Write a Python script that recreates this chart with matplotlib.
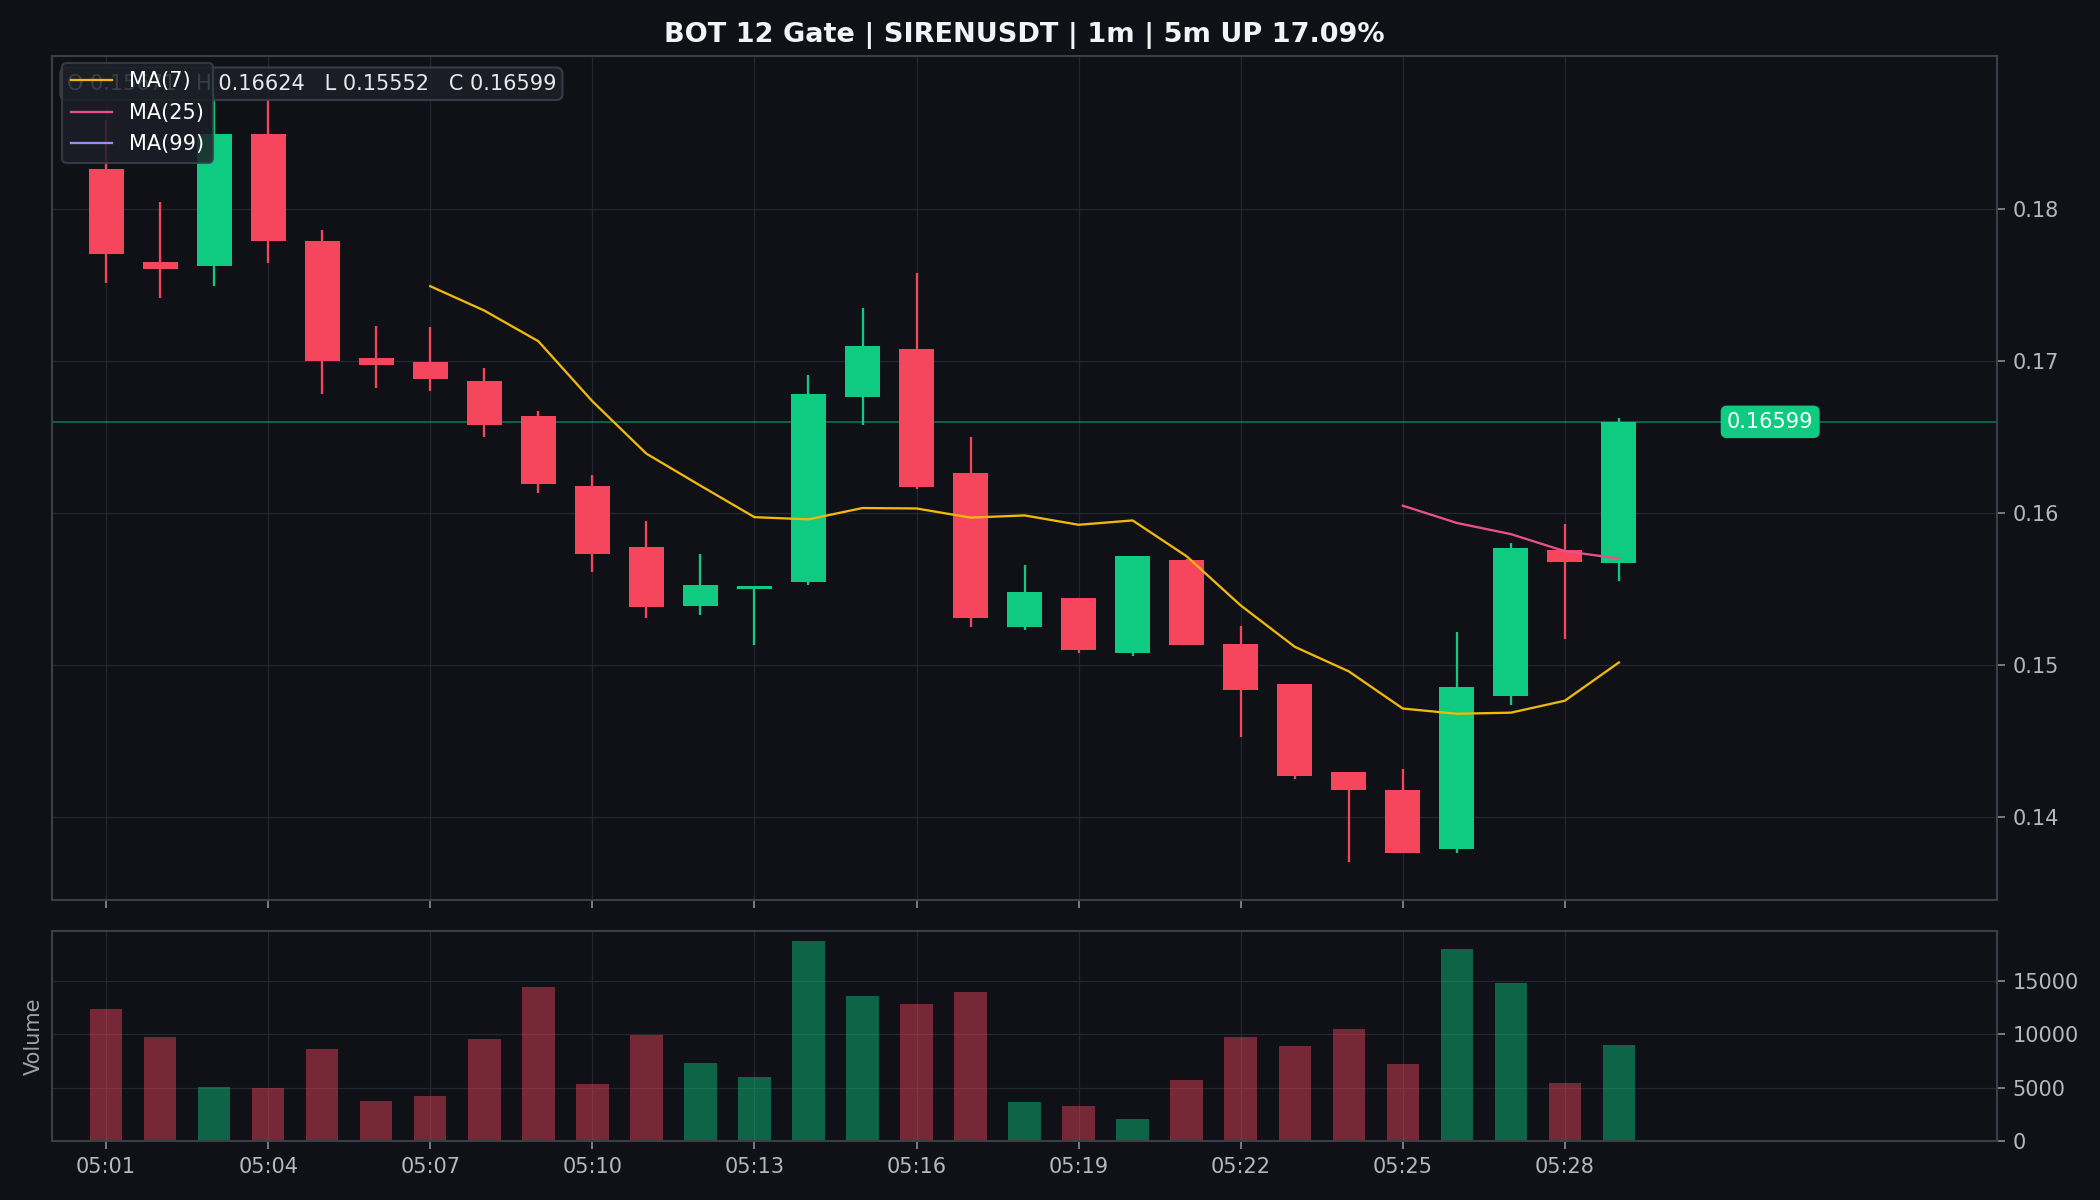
import matplotlib
matplotlib.use("Agg")
import matplotlib.pyplot as plt
import numpy as np
import pandas as pd

# ---------------- data ----------------
times = ["05:01", "05:02", "05:03", "05:04", "05:05", "05:06", "05:07", "05:08", "05:09", "05:10",
         "05:11", "05:12", "05:13", "05:14", "05:15", "05:16", "05:17", "05:18", "05:19", "05:20",
         "05:21", "05:22", "05:23", "05:24", "05:25", "05:26", "05:27", "05:28", "05:29"]
opens = [0.1826, 0.1765, 0.1762, 0.1849, 0.1779, 0.1702, 0.1699, 0.1687, 0.1664, 0.1618,
         0.1578, 0.1539, 0.1550, 0.1555, 0.1676, 0.1708, 0.1626, 0.1525, 0.1544, 0.1508,
         0.1569, 0.1514, 0.1488, 0.1430, 0.1418, 0.1379, 0.1480, 0.1576, 0.15671]
highs = [0.1858, 0.1804, 0.1875, 0.1871, 0.1786, 0.1723, 0.1722, 0.1695, 0.1667, 0.1625,
         0.1595, 0.1573, 0.1552, 0.1691, 0.1735, 0.1758, 0.1650, 0.1566, 0.1544, 0.1572,
         0.1570, 0.1526, 0.1488, 0.1430, 0.1432, 0.1522, 0.1580, 0.1593, 0.16624]
lows = [0.1751, 0.1741, 0.1749, 0.1764, 0.1678, 0.1682, 0.1680, 0.1650, 0.1613, 0.1561,
        0.1531, 0.1533, 0.1513, 0.1553, 0.1658, 0.1616, 0.1525, 0.1523, 0.1508, 0.1506,
        0.1513, 0.1453, 0.1425, 0.1371, 0.1377, 0.1377, 0.1474, 0.1517, 0.15552]
closes = [0.1770, 0.1760, 0.1849, 0.1779, 0.1700, 0.1697, 0.1688, 0.1658, 0.1619, 0.1573,
          0.1538, 0.1553, 0.1552, 0.1678, 0.1710, 0.1617, 0.1531, 0.1548, 0.1510, 0.1572,
          0.1513, 0.1484, 0.1427, 0.1418, 0.1377, 0.1486, 0.1577, 0.1568, 0.16599]
volumes = [12400, 9780, 5090, 5000, 8660, 3720, 4250, 9590, 14470, 5380,
           9970, 7340, 6030, 18780, 13630, 12880, 14000, 3630, 3310, 2090,
           5750, 9720, 8880, 10530, 7250, 18030, 14840, 5470, 9030]
ma_periods = [7, 25, 99]
title_text = "BOT 12 Gate | SIRENUSDT | 1m | 5m UP 17.09%"

# ---------------- style ----------------
BG = "#0f1117"
UP = "#0ecb81"
DOWN = "#f6465d"
GRID = "#23272f"
SPINE = "#3b3f48"
TICK = "#b4b8bf"
MA_COLORS = ["#f0b90b", "#e8508c", "#9b8cf0"]

plt.rcParams["font.family"] = ["DejaVu Sans"]

fig = plt.figure(figsize=(14, 8), dpi=150, facecolor=BG)
ax = fig.add_axes([0.0248, 0.25, 0.9262, 0.7033])
axv = fig.add_axes([0.0248, 0.0492, 0.9262, 0.175], sharex=ax)

for a in (ax, axv):
    a.set_facecolor(BG)
    for s in a.spines.values():
        s.set_color(SPINE)
        s.set_linewidth(1.0)
    a.yaxis.tick_right()
    a.tick_params(colors=TICK, labelsize=10, length=4, width=0.8)
    a.tick_params(axis="both", color="#8a8f98")
    a.grid(True, color=GRID, linewidth=0.6)
    a.set_axisbelow(True)

df = pd.DataFrame({"open": opens, "high": highs, "low": lows, "close": closes, "vol": volumes})
x = np.arange(len(df))
up = df["close"] >= df["open"]
colors = np.where(up, UP, DOWN)

# wicks
ax.vlines(x, df["low"], df["high"], colors=colors, linewidth=1.1, zorder=2)
# bodies
body_bottom = np.minimum(df["open"], df["close"])
body_height = np.abs(df["close"] - df["open"])
body_height = np.maximum(body_height, 0.00012)
ax.bar(x, body_height, bottom=body_bottom, width=0.65, color=colors, zorder=3, linewidth=0)

# moving averages
handles = []
for p, c in zip(ma_periods, MA_COLORS):
    ma = df["close"].rolling(p).mean()
    ln, = ax.plot(x, ma, color=c, linewidth=1.1, zorder=4, label=f"MA({p})")
    handles.append(ln)

# last price line + label
last = closes[-1]
ax.axhline(last, color=UP, alpha=0.45, linewidth=0.9, zorder=1)
ax.text(len(df) + 1.0, last, f"{last:.5f}", color="white", fontsize=10, ha="left", va="center",
        zorder=6, bbox=dict(boxstyle="round,pad=0.3", facecolor=UP, edgecolor="none"))

# y limits
lo, hi = min(lows), max(highs)
pad = (hi - lo) * 0.05
ax.set_ylim(lo - pad, hi + pad)
ax.set_xlim(-1, len(df) + 6)
ax.set_yticks([0.14, 0.15, 0.16, 0.17, 0.18])

# OHLC info box
ohlc = f"O {opens[-1]:.5f}   H {highs[-1]:.5f}   L {lows[-1]:.5f}   C {closes[-1]:.5f}"
ax.text(0.0075, 0.979, ohlc, transform=ax.transAxes, color="#e6e8eb", fontsize=10,
        ha="left", va="top", zorder=7,
        bbox=dict(boxstyle="round,pad=0.3", facecolor="#1b1f27", edgecolor=SPINE, alpha=0.92))

leg = ax.legend(handles=handles, loc="upper left", fontsize=10, frameon=True,
                facecolor="#1b1f27", edgecolor=SPINE, framealpha=0.85,
                handlelength=2.0, borderpad=0.4, labelspacing=0.55,
                bbox_to_anchor=(0.0, 1.004))
leg.set_zorder(8)
for t in leg.get_texts():
    t.set_color("white")

ax.set_title(title_text, color="#f2f3f5", fontsize=13, fontweight="bold", pad=6.5)

# volume
vcolors = np.where(up, UP, DOWN)
axv.bar(x, df["vol"], width=0.6, color=vcolors, alpha=0.45, linewidth=0, zorder=2)
axv.set_ylim(0, max(volumes) * 1.05)
axv.set_yticks([0, 5000, 10000, 15000])
axv.set_ylabel("Volume", color="#9ea3ab", fontsize=10)

ticks = x[::3]
axv.set_xticks(ticks)
axv.set_xticklabels([times[i] for i in ticks])
plt.setp(ax.get_xticklabels(), visible=False)

fig.savefig("out.png", dpi=150, facecolor=BG)
